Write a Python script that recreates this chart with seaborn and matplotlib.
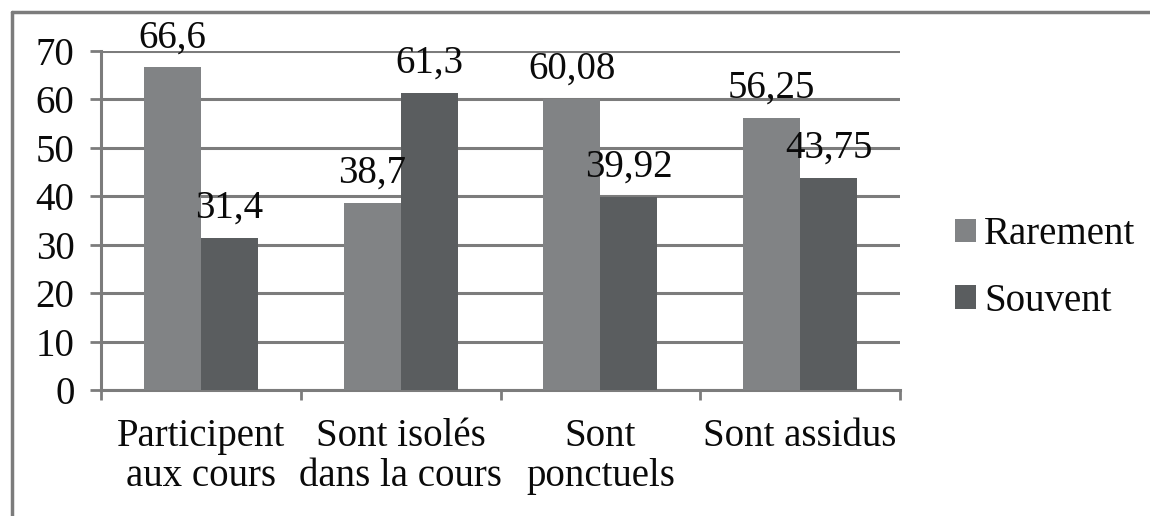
import matplotlib
matplotlib.use("Agg")
import matplotlib.pyplot as plt
import matplotlib.lines as mlines
import matplotlib.patches as mpatches
import seaborn as sns
import pandas as pd

categories = ["Participent\naux cours", "Sont isolés\ndans la cours", "Sont\nponctuels", "Sont assidus"]
series = ["Rarement", "Souvent"]
rarement = [66.6, 38.7, 60.08, 56.25]
souvent = [31.4, 61.3, 39.92, 43.75]
rarement_labels = ["66,6", "38,7", "60,08", "56,25"]
souvent_labels = ["31,4", "61,3", "39,92", "43,75"]
yticks = [0, 10, 20, 30, 40, 50, 60, 70]

colors = ["#818385", "#5a5d5f"]
grid_col = "#7c7c7c"
txt_col = "#0a0a0a"

sns.set_theme(style="white")
plt.rcParams["font.family"] = ["Liberation Serif", "DejaVu Serif"]
FS = 28

df = pd.DataFrame({
    "cat": categories * 2,
    "val": rarement + souvent,
    "serie": [series[0]] * 4 + [series[1]] * 4,
})

fig = plt.figure(figsize=(11.5, 5.16), dpi=100)
ax = fig.add_axes([101 / 1150, 1 - 390 / 516, (900 - 101) / 1150, (390 - 51) / 516])

sns.barplot(data=df, x="cat", y="val", hue="serie", palette=colors,
            width=0.57, saturation=1, ax=ax, legend=False, errorbar=None,
            linewidth=0, edgecolor="none", zorder=3)

for cont, labs in zip(ax.containers, [rarement_labels, souvent_labels]):
    ax.bar_label(cont, labels=labs, padding=8, fontsize=FS, color=txt_col)

ax.set_ylim(0, 70)
ax.set_yticks(yticks)
ax.set_xlim(-0.5, 3.5)
ax.set_xticks([-0.5, 0.5, 1.5, 2.5, 3.5], labels=[""] * 5)
ax.set_xticks([0, 1, 2, 3], labels=categories, minor=True)
ax.tick_params(axis="x", which="major", direction="out", length=7, width=2,
               color=grid_col, bottom=True)
ax.tick_params(axis="x", which="minor", length=0, pad=20, labelsize=FS,
               labelcolor=txt_col)
ax.tick_params(axis="y", direction="out", length=8, width=2, color=grid_col,
               left=True, pad=11, labelsize=FS, labelcolor=txt_col)
for lab in ax.get_xticklabels(minor=True):
    lab.set_linespacing(1.12)
ax.set_xlabel("")
ax.set_ylabel("")
ax.yaxis.grid(True, color=grid_col, lw=2.2)
ax.set_axisbelow(True)
for s in ["top", "right"]:
    ax.spines[s].set_visible(False)
for s in ["left", "bottom"]:
    ax.spines[s].set_color(grid_col)
    ax.spines[s].set_linewidth(2.2)

handles = [mpatches.Patch(facecolor=c, edgecolor="none") for c in colors]
fig.legend(handles, series, loc="center left", bbox_to_anchor=(955 / 1150, 1 - 268 / 516),
           frameon=False, fontsize=FS, handlelength=0.55, handleheight=0.55,
           handletextpad=0.2, labelspacing=0.75, borderaxespad=0, borderpad=0,
           labelcolor=txt_col)

fig.add_artist(mlines.Line2D([12 / 1150, 1], [1 - 12 / 516, 1 - 12 / 516],
                             transform=fig.transFigure, color=grid_col, lw=2.5))
fig.add_artist(mlines.Line2D([12 / 1150, 12 / 1150], [0, 1 - 12 / 516],
                             transform=fig.transFigure, color=grid_col, lw=2.5))

fig.savefig("out.png", dpi=100)
